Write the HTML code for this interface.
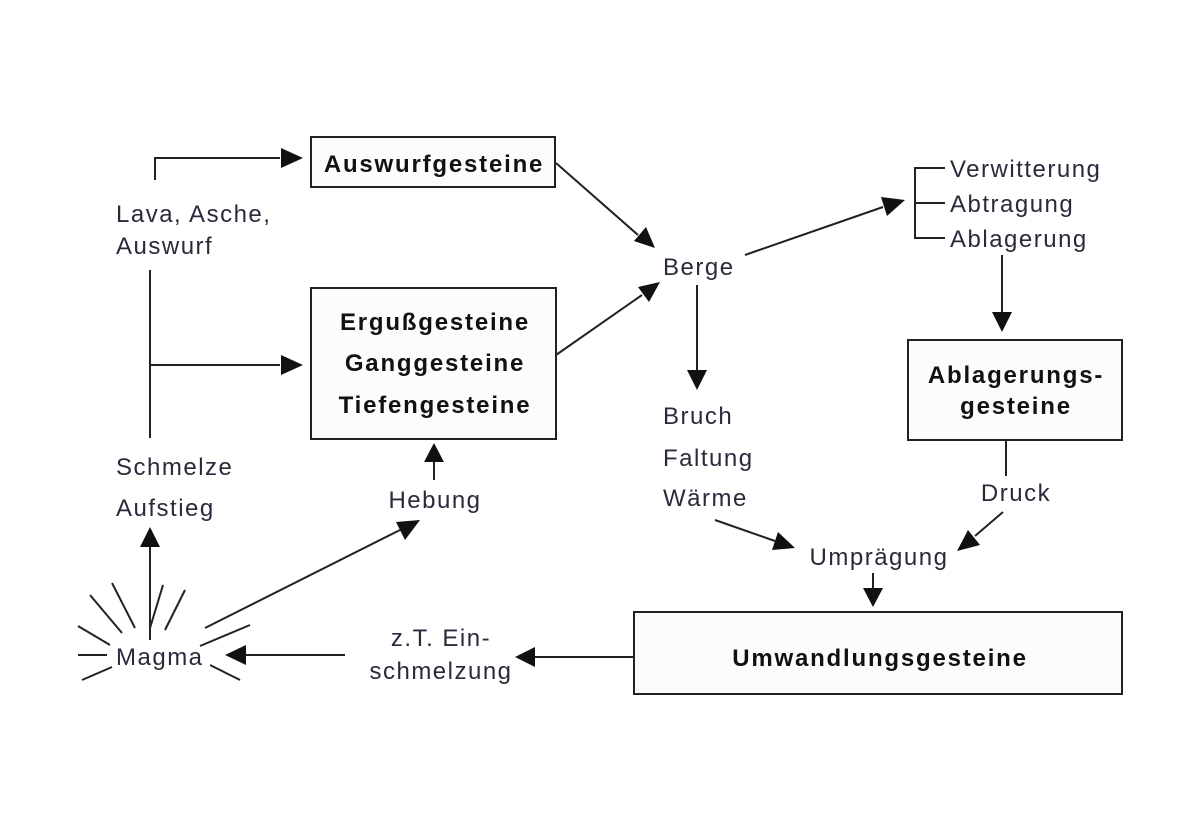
<!DOCTYPE html>
<html><head><meta charset="utf-8"><style>
html,body{margin:0;padding:0;background:#fff;}
svg{display:block;}
text{font-family:"Liberation Sans",sans-serif;font-size:24px;letter-spacing:1.5px;fill:#2a2a3a;}
.b{font-weight:bold;fill:#111;letter-spacing:1.8px;}
</style></head><body>
<svg width="1204" height="831" viewBox="0 0 1204 831">
<g fill="#fcfcfc" stroke="#222" stroke-width="2">
<rect x="311" y="137" width="244" height="50"/>
<rect x="311" y="288" width="245" height="151"/>
<rect x="908" y="340" width="214" height="100"/>
<rect x="634" y="612" width="488" height="82"/>
</g>
<g stroke="#222" stroke-width="2" fill="none">
<polyline points="155,180 155,158 280,158"/>
<line x1="150" y1="270" x2="150" y2="438"/>
<line x1="150" y1="365" x2="280" y2="365"/>
<line x1="150" y1="640" x2="150" y2="545"/>
<line x1="205" y1="628" x2="400" y2="530"/>
<line x1="434" y1="480" x2="434" y2="460"/>
<line x1="556" y1="163" x2="638" y2="235"/>
<line x1="556" y1="355" x2="642" y2="295"/>
<line x1="745" y1="255" x2="883" y2="207"/>
<line x1="697" y1="285" x2="697" y2="370"/>
<polyline points="945,168 915,168 915,238 945,238"/>
<line x1="915" y1="203" x2="945" y2="203"/>
<line x1="1002" y1="255" x2="1002" y2="312"/>
<line x1="1006" y1="440" x2="1006" y2="476"/>
<line x1="1003" y1="512" x2="975" y2="536"/>
<line x1="715" y1="520" x2="775" y2="541"/>
<line x1="873" y1="573" x2="873" y2="590"/>
<line x1="634" y1="657" x2="535" y2="657"/>
<line x1="345" y1="655" x2="245" y2="655"/>
<line x1="90" y1="595" x2="122" y2="633"/>
<line x1="112" y1="583" x2="135" y2="628"/>
<line x1="163" y1="585" x2="150" y2="628"/>
<line x1="185" y1="590" x2="165" y2="630"/>
<line x1="78" y1="626" x2="110" y2="645"/>
<line x1="78" y1="655" x2="107" y2="655"/>
<line x1="82" y1="680" x2="112" y2="667"/>
<line x1="210" y1="665" x2="240" y2="680"/>
<line x1="200" y1="646" x2="250" y2="625"/>
</g>
<g fill="#111">
<path d="M303,158 L281,148 L281,168z"/>
<path d="M303,365 L281,355 L281,375z"/>
<path d="M150,527 L140,547 L160,547z"/>
<path d="M420,520 L396,522 L405,540z"/>
<path d="M434,443 L424,462 L444,462z"/>
<path d="M655,248 L634,241 L646,227z"/>
<path d="M660,282 L649,302 L638,287z"/>
<path d="M905,200 L887,216 L881,197z"/>
<path d="M697,390 L687,370 L707,370z"/>
<path d="M1002,332 L992,312 L1012,312z"/>
<path d="M957,551 L968,530 L980,545z"/>
<path d="M795,548 L772,550 L778,532z"/>
<path d="M873,607 L863,588 L883,588z"/>
<path d="M515,657 L535,647 L535,667z"/>
<path d="M225,655 L246,645 L246,665z"/>
</g>
<text x="434" y="172" text-anchor="middle" class="b">Auswurfgesteine</text>
<text x="435" y="330" text-anchor="middle" class="b">Ergußgesteine</text>
<text x="435" y="371" text-anchor="middle" class="b">Ganggesteine</text>
<text x="435" y="413" text-anchor="middle" class="b">Tiefengesteine</text>
<text x="1016" y="383" text-anchor="middle" class="b">Ablagerungs-</text>
<text x="1016" y="414" text-anchor="middle" class="b">gesteine</text>
<text x="880" y="666" text-anchor="middle" class="b">Umwandlungsgesteine</text>
<text x="116" y="222">Lava, Asche,</text>
<text x="116" y="254">Auswurf</text>
<text x="116" y="475">Schmelze</text>
<text x="116" y="516">Aufstieg</text>
<text x="435" y="508" text-anchor="middle">Hebung</text>
<text x="116" y="665">Magma</text>
<text x="441" y="646" text-anchor="middle">z.T. Ein-</text>
<text x="441" y="679" text-anchor="middle">schmelzung</text>
<text x="663" y="275">Berge</text>
<text x="663" y="424">Bruch</text>
<text x="663" y="466">Faltung</text>
<text x="663" y="506">Wärme</text>
<text x="879" y="565" text-anchor="middle">Umprägung</text>
<text x="1016" y="501" text-anchor="middle">Druck</text>
<text x="950" y="177">Verwitterung</text>
<text x="950" y="212">Abtragung</text>
<text x="950" y="247">Ablagerung</text>
</svg>
</body></html>
